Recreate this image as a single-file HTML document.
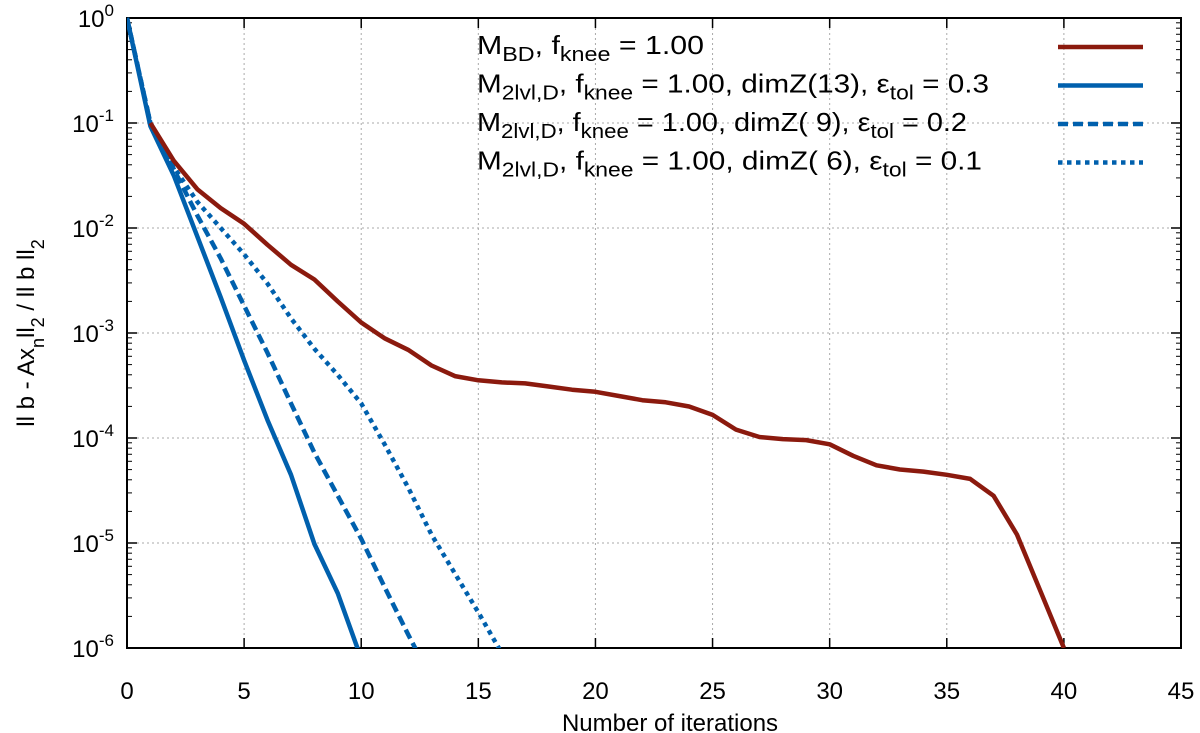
<!DOCTYPE html>
<html><head><meta charset="utf-8"><style>
html,body{margin:0;padding:0;background:#fff;}
svg{display:block;font-family:"Liberation Sans",sans-serif;}
</style></head><body>
<svg id="chart" width="1200" height="733" viewBox="0 0 1200 733">
<defs><clipPath id="plotclip"><rect x="127" y="10" width="1054" height="638"/></clipPath></defs>
<g id="grid"></g>
<g id="axes"></g>
<g id="series" clip-path="url(#plotclip)"></g>
<g id="legend"></g>
<text x="670" y="731" font-size="24" text-anchor="middle">Number of iterations</text>
<text transform="translate(34,333) rotate(-90)" font-size="24" text-anchor="middle">ll b - Ax<tspan baseline-shift="sub" font-size="18">n</tspan>ll<tspan baseline-shift="sub" font-size="18">2</tspan> / ll b ll<tspan baseline-shift="sub" font-size="18">2</tspan></text>
</svg>
<script>
const xTicks = [0,5,10,15,20,25,30,35,40,45];
const yTickExps = [0,-1,-2,-3,-4,-5,-6];
const bdX = [1,2,3,4,5,6,7,8,9,10,11,12,13,14,15,16,17,18,19,20,21,22,23,24,25,26,27,28,29,30,31,32,33,34,35,36,37,38,39,40];
const bdLog = [-1,-1.36,-1.63,-1.81,-1.96,-2.16,-2.35,-2.49,-2.70,-2.90,-3.05,-3.16,-3.31,-3.41,-3.45,-3.47,-3.48,-3.51,-3.54,-3.56,-3.60,-3.64,-3.66,-3.70,-3.78,-3.92,-3.99,-4.01,-4.02,-4.06,-4.17,-4.26,-4.30,-4.32,-4.35,-4.39,-4.55,-4.92,-5.46,-6.0];
const z13X = [0,1,2,3,4,5,6,7,8,9,10];
const z13Log = [0,-1.03,-1.5,-2.08,-2.66,-3.26,-3.83,-4.35,-5.01,-5.48,-6.1];
const z9X = [0,1,2,3,4,5,6,7,8,9,10,11,12,13];
const z9Log = [0,-1.0,-1.44,-1.88,-2.29,-2.74,-3.19,-3.67,-4.14,-4.55,-4.96,-5.42,-5.87,-6.3];
const z6X = [0,1,2,3,4,5,6,7,8,9,10,11,12,13,14,15,16];
const z6Log = [0,-1.0,-1.42,-1.75,-2.0,-2.25,-2.53,-2.86,-3.15,-3.40,-3.67,-4.06,-4.47,-4.92,-5.29,-5.66,-6.05];

const L=127,R=1181,T=18,B=648;
const xs=v=>L+(v/45)*(R-L);
const ys=e=>T+(-e/6)*(B-T);
const NS="http://www.w3.org/2000/svg";
function mk(tag,attrs,parent){const e=document.createElementNS(NS,tag);for(const k in attrs)e.setAttribute(k,attrs[k]);parent.appendChild(e);return e;}
const grid=document.getElementById('grid'),axes=document.getElementById('axes'),series=document.getElementById('series'),legend=document.getElementById('legend');

xTicks.forEach(t=>{
  const x=xs(t);
  if(t>0&&t<45){const g=mk('line',{x1:x,y1:T,x2:x,y2:B,stroke:'#aaa','stroke-width':1,'stroke-dasharray':'2,3'},grid);
  
  }
  mk('line',{x1:x,y1:B,x2:x,y2:B-10,stroke:'#000','stroke-width':1.5},axes);
  mk('line',{x1:x,y1:T,x2:x,y2:T+10,stroke:'#000','stroke-width':1.5},axes);
  const tx=mk('text',{x:x,y:699,'font-size':24,'text-anchor':'middle'},axes);
  tx.textContent=t;
  
  
});
yTickExps.forEach(e=>{
  const y=ys(e);
  if(e<0&&e>-6){const g=mk('line',{x1:L,y1:y,x2:R,y2:y,stroke:'#aaa','stroke-width':1,'stroke-dasharray':'2,3'},grid);
  
  }
  mk('line',{x1:L,y1:y,x2:L+10,y2:y,stroke:'#000','stroke-width':1.5},axes);
  mk('line',{x1:R,y1:y,x2:R-10,y2:y,stroke:'#000','stroke-width':1.5},axes);
  if(e>-6){for(let m=2;m<10;m++){const ym=ys(e-1)-Math.log10(m)*(B-T)/6;
    mk('line',{x1:L,y1:ym,x2:L+5,y2:ym,stroke:'#000','stroke-width':1},axes);
    mk('line',{x1:R,y1:ym,x2:R-5,y2:ym,stroke:'#000','stroke-width':1},axes);}}
  const tx=mk('text',{x:114,y:y+9,'font-size':24,'text-anchor':'end'},axes);
  tx.innerHTML='10<tspan dy="-11" font-size="17">'+e+'</tspan>';
  
  
});
const frame=mk('rect',{x:L,y:T,width:R-L,height:B-T,fill:'none',stroke:'#000','stroke-width':2},axes);



function drawLine(X,Y,color,dash,name){
  const d=X.map((x,i)=>(i?'L':'M')+xs(x).toFixed(1)+','+ys(Y[i]).toFixed(1)).join(' ');
  const p=mk('path',{d:d,fill:'none',stroke:color,'stroke-width':4.5,'stroke-linejoin':'round'},series);
  if(dash)p.setAttribute('stroke-dasharray',dash);
  
  
}
const RED='#8b1a0e',BLUE='#0060ad';
drawLine(z6X,z6Log,BLUE,'4.5,4.5','series-dimz6-dotted');
drawLine(z9X,z9Log,BLUE,'10,5','series-dimz9-dashed');
drawLine(z13X,z13Log,BLUE,null,'series-dimz13-solid');
drawLine(bdX,bdLog,RED,null,'series-mbd');

const S='<tspan dy="7" font-size="20">', E='</tspan><tspan dy="-7">';
const leg=[
 ['M'+S+'BD'+E+', f'+S+'knee'+E+' = 1.00</tspan>',RED,null,'legend-entry-mbd',227],
 ['M'+S+'2lvl,D'+E+', f'+S+'knee'+E+' = 1.00, dimZ(13), ε'+S+'tol'+E+' = 0.3</tspan>',BLUE,null,'legend-entry-dimz13',512],
 ['M'+S+'2lvl,D'+E+', f'+S+'knee'+E+' = 1.00, dimZ( 9), ε'+S+'tol'+E+' = 0.2</tspan>',BLUE,'10,5','legend-entry-dimz9',490],
 ['M'+S+'2lvl,D'+E+', f'+S+'knee'+E+' = 1.00, dimZ( 6), ε'+S+'tol'+E+' = 0.1</tspan>',BLUE,'4.5,4.5','legend-entry-dimz6',505]
];
leg.forEach((l,i)=>{
  const y=47+i*38.5;
  const t=mk('text',{x:477,y:y+7,'font-size':26,textLength:l[4],lengthAdjust:'spacingAndGlyphs'},legend);
  t.innerHTML=l[0];
  
  
  const ln=mk('line',{x1:1058,y1:y,x2:1143,y2:y,stroke:l[1],'stroke-width':4.5},legend);
  if(l[2])ln.setAttribute('stroke-dasharray',l[2]);
  
  
});
</script>
</body></html>
